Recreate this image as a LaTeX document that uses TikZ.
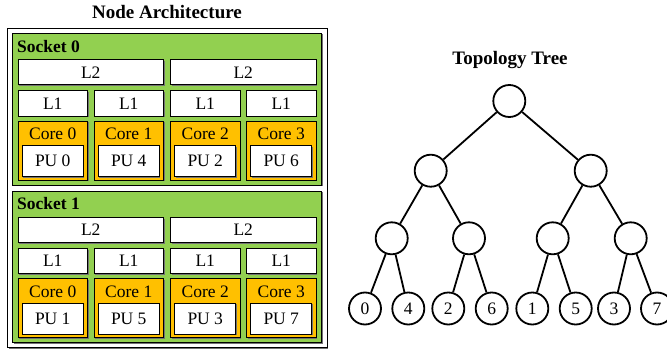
\documentclass[tikz,border=0pt]{standalone}
\usepackage{fontspec}
\setmainfont{Liberation Serif}
\usetikzlibrary{shadows}
\definecolor{sockgreen}{HTML}{92D050}
\definecolor{coreorange}{HTML}{FFC000}
\begin{document}
\begin{tikzpicture}[x=1pt,y=-1pt,
  shad/.style={drop shadow={shadow xshift=1pt,shadow yshift=-1pt,fill=black!55,opacity=1}},
  boxbase/.style={draw=black,line width=1pt,inner sep=0pt,outer sep=0pt,shad,
    font=\fontsize{17.5}{19}\selectfont},
  cachebox/.style={boxbase,fill=white,minimum height=25pt},
  socketbox/.style={boxbase,fill=sockgreen,minimum width=309pt,minimum height=151.5pt},
  corebox/.style={boxbase,fill=coreorange,minimum width=69.5pt,minimum height=59pt},
  pubox/.style={boxbase,fill=white,minimum width=61pt,minimum height=31pt},
  titletext/.style={font=\fontsize{19}{21}\selectfont\bfseries},
  socktext/.style={font=\fontsize{17.5}{19}\selectfont\bfseries,anchor=west,inner sep=0pt},
  coretext/.style={font=\fontsize{17.5}{19}\selectfont,inner sep=0pt},
  tnode/.style={circle,draw=black,line width=1.8pt,fill=white,minimum size=32pt,inner sep=0pt,
    font=\fontsize{17.5}{19}\selectfont},
  tedge/.style={line width=1.8pt}]
\useasboundingbox (0,0) rectangle (667,353);
% titles
\node[titletext] (t1) at (167,12) {Node Architecture};
\node[titletext] (t2) at (510,60) {Topology Tree};
% outer machine box
\node[boxbase,fill=white,minimum width=319.5pt,minimum height=318.5pt] (machine) at (167.25,188.25) {};
% sockets
\foreach \s/\T/\pa/\pb/\pc/\pd in {0/33.5/0/4/2/6, 1/191/1/5/3/7}{
  \node[socketbox] (sock\s) at (167,\T+75.75) {};
  \node[socktext] (sock\s lab) at (17,\T+13) {Socket \s};
  \node[cachebox,minimum width=145.5pt] (s\s l2a) at (90.75,\T+39) {L2};
  \node[cachebox,minimum width=145.5pt] (s\s l2b) at (243.25,\T+39) {L2};
  \foreach \c/\cx/\pu in {0/52.75/\pa, 1/128.75/\pb, 2/205.25/\pc, 3/281.25/\pd}{
    \node[cachebox,minimum width=69.5pt] (s\s l1\c) at (\cx,\T+70) {L1};
    \node[corebox] (s\s core\c) at (\cx,\T+117) {};
    \node[coretext] (s\s corelab\c) at (\cx,\T+100.5) {Core \c};
    \node[pubox] (s\s pu\c) at (\cx,\T+127.7) {PU \pu};
  }
}
% topology tree
\node[tnode] (root) at (509.3,101) {};
\node[tnode] (a0) at (430.7,170.7) {};
\node[tnode] (a1) at (590.7,170.7) {};
\node[tnode] (b0) at (391.7,238.3) {};
\node[tnode] (b1) at (469,238.3) {};
\node[tnode] (b2) at (552.7,238.3) {};
\node[tnode] (b3) at (630.7,238.3) {};
\node[tnode] (c0) at (365,308.5) {0};
\node[tnode] (c4) at (408.3,308.5) {4};
\node[tnode] (c2) at (448.3,308.5) {2};
\node[tnode] (c6) at (491.7,308.5) {6};
\node[tnode] (c1) at (532.3,308.5) {1};
\node[tnode] (c5) at (575.7,308.5) {5};
\node[tnode] (c3) at (614,308.5) {3};
\node[tnode] (c7) at (657,308.5) {7};
\draw[tedge] (root) -- (a0);
\draw[tedge] (root) -- (a1);
\draw[tedge] (a0) -- (b0);
\draw[tedge] (a0) -- (b1);
\draw[tedge] (a1) -- (b2);
\draw[tedge] (a1) -- (b3);
\draw[tedge] (b0) -- (c0);
\draw[tedge] (b0) -- (c4);
\draw[tedge] (b1) -- (c2);
\draw[tedge] (b1) -- (c6);
\draw[tedge] (b2) -- (c1);
\draw[tedge] (b2) -- (c5);
\draw[tedge] (b3) -- (c3);
\draw[tedge] (b3) -- (c7);
\end{tikzpicture}
\end{document}
